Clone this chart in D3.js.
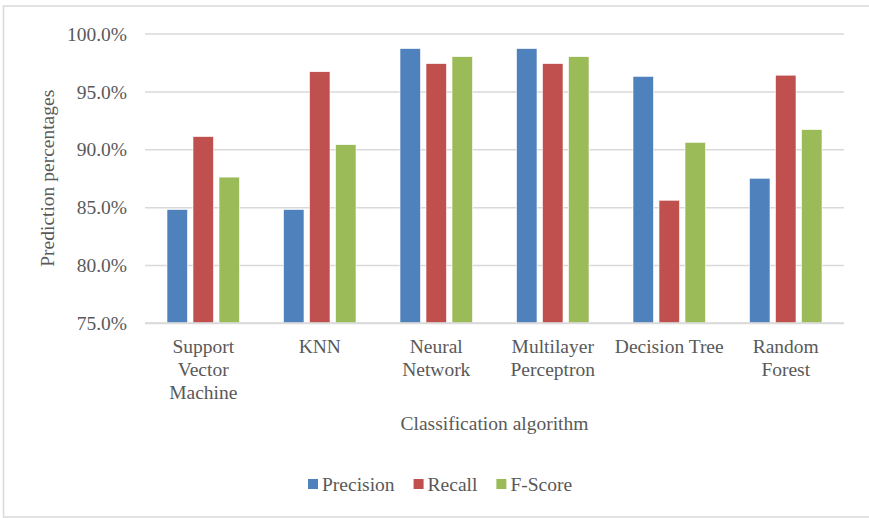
<!DOCTYPE html>
<html>
<head>
<meta charset="utf-8">
<script src="https://cdn.jsdelivr.net/npm/d3@7"></script>
<style>
  body { margin: 0; background: #fff; }
  text { font-family: "Liberation Serif", "Times New Roman", serif; fill: #595959; }
</style>
</head>
<body>
<div class="chart"></div>
<script>
// ======= GROUPED BAR CHART: CLASSIFIER SCORES ===========

const categories = [
  ['Support', 'Vector', 'Machine'],
  ['KNN'],
  ['Neural', 'Network'],
  ['Multilayer', 'Perceptron'],
  ['Decision Tree'],
  ['Random', 'Forest']
]
const seriesNames = ['Precision', 'Recall', 'F-Score']
const precision = [84.8, 84.8, 98.7, 98.7, 96.3, 87.5]
const recall    = [91.1, 96.7, 97.4, 97.4, 85.6, 96.4]
const fscore    = [87.6, 90.4, 98.0, 98.0, 90.6, 91.7]
const yTicks    = [75, 80, 85, 90, 95, 100]
const colors    = ['#4F81BD', '#C0504D', '#9BBB59']

const seriesValues = [precision, recall, fscore]
const catKeys = categories.map(c => c.join(' '))

const W = 869
const H = 518
const fs = 19.5
const margin = { top: 33.5, right: 25, bottom: 195, left: 145 }
const width = W - margin.left - margin.right
const height = H - margin.top - margin.bottom

const root = d3.select('.chart')
  .append('svg')
    .attr('width', W)
    .attr('height', H)

// outer chart border (right side runs off the picture)
root.append('rect')
  .attr('x', 3.5)
  .attr('y', 6)
  .attr('width', W + 10)
  .attr('height', 511)
  .attr('fill', 'none')
  .attr('stroke', '#D9D9D9')
  .attr('stroke-width', 1.5)

const svg = root.append('g')
  .attr('transform', `translate(${margin.left}, ${margin.top})`)

const yScale = d3.scaleLinear()
  .domain([75, 100])
  .range([height, 0])

const xScale = d3.scaleBand()
  .domain(catKeys)
  .range([0, width])
  .padding(0)

const groupW = 72.5
const xInner = d3.scaleBand()
  .domain(seriesNames)
  .range([-groupW / 2, groupW / 2])
  .paddingInner(0.212)
  .paddingOuter(0)

// gridlines + tick labels
const yAxis = d3.axisLeft(yScale)
  .tickValues(yTicks)
  .tickSize(-width)
  .tickPadding(18)
  .tickFormat(d => d.toFixed(1) + '%')

svg.append('g')
  .call(yAxis)
  .call(g => g.select('.domain').remove())
  .call(g => g.selectAll('.tick line')
    .attr('stroke', '#D9D9D9')
    .attr('stroke-width', 1.5))
  .call(g => g.selectAll('.tick text')
    .attr('font-size', fs)
    .attr('dy', '0.34em')
    .attr('fill', '#595959'))

// bars
const rows = []
catKeys.forEach((c, i) => {
  seriesNames.forEach((s, j) => rows.push({ cat: c, series: s, value: seriesValues[j][i], color: colors[j] }))
})

svg.selectAll('rect.bar')
  .data(rows)
  .enter()
  .append('rect')
    .attr('class', 'bar')
    .attr('x', d => xScale(d.cat) + xScale.bandwidth() / 2 + xInner(d.series))
    .attr('width', xInner.bandwidth())
    .attr('y', d => yScale(d.value))
    .attr('height', d => height - yScale(d.value))
    .attr('fill', d => d.color)
    .attr('stroke', '#fff')
    .attr('stroke-width', 0.6)

// bottom axis line
svg.append('line')
  .attr('x1', 0)
  .attr('x2', width)
  .attr('y1', height)
  .attr('y2', height)
  .attr('stroke', '#D9D9D9')
  .attr('stroke-width', 1.5)

// category labels, multi-line
const catLabels = svg.selectAll('text.cat')
  .data(categories)
  .enter()
  .append('text')
    .attr('class', 'cat')
    .attr('text-anchor', 'middle')
    .attr('font-size', fs)
    .attr('transform', (d, i) => `translate(${xScale(catKeys[i]) + xScale.bandwidth() / 2}, ${height + 30})`)

catLabels.selectAll('tspan')
  .data(d => d)
  .enter()
  .append('tspan')
    .attr('x', 0)
    .attr('y', (d, i) => i * 23)
    .text(d => d)

// axis titles
root.append('text')
  .attr('text-anchor', 'middle')
  .attr('font-size', fs)
  .attr('x', margin.left + width / 2)
  .attr('y', 430)
  .text('Classification algorithm')

root.append('text')
  .attr('text-anchor', 'middle')
  .attr('font-size', fs)
  .attr('transform', `translate(54, ${margin.top + height / 2}) rotate(-90)`)
  .text('Prediction percentages')

// legend
const legend = root.append('g')
  .attr('transform', 'translate(308, 491)')

let lx = 0
seriesNames.forEach((s, j) => {
  legend.append('rect')
    .attr('x', lx)
    .attr('y', -12)
    .attr('width', 10)
    .attr('height', 10)
    .attr('fill', colors[j])
  const t = legend.append('text')
    .attr('x', lx + 14)
    .attr('y', 0)
    .attr('font-size', fs)
    .text(s)
  lx += 14 + t.node().getComputedTextLength() + 19
})
</script>
</body>
</html>
